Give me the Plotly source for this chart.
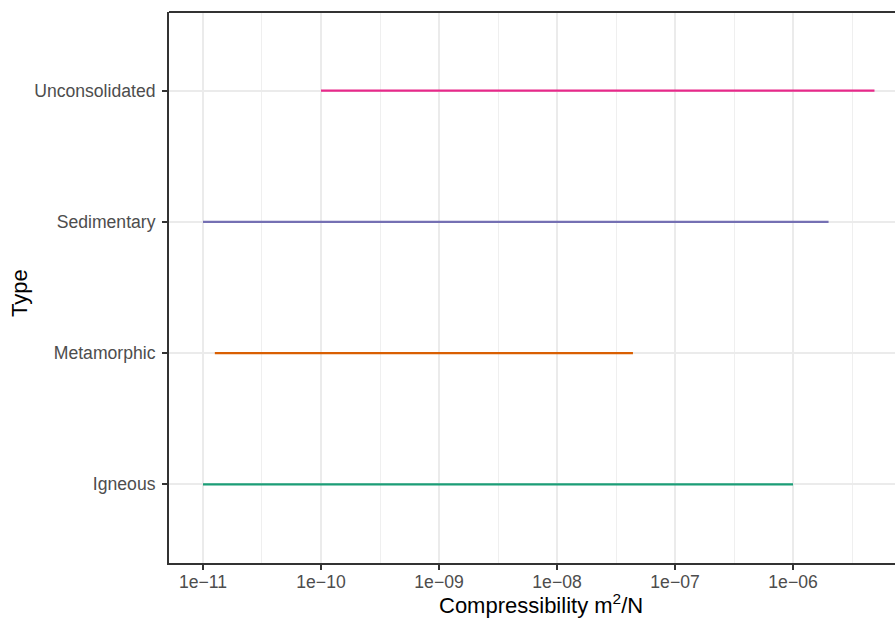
import numpy as np
import plotly.graph_objects as go

types = ["Igneous", "Metamorphic", "Sedimentary", "Unconsolidated"]
x_min = [1e-11, 1.26e-11, 1e-11, 1e-10]
x_max = [1e-6, 4.4e-8, 2e-6, 4.9e-6]
colors = ["#1B9E77", "#D95F02", "#7570B3", "#E7298A"]

tick_vals = [1e-11, 1e-10, 1e-9, 1e-8, 1e-7, 1e-6]
tick_text = ["1e\u221211", "1e\u221210", "1e\u221209", "1e\u221208", "1e\u221207", "1e\u221206"]
minor_vals = [10 ** -10.5, 10 ** -9.5, 10 ** -8.5, 10 ** -7.5, 10 ** -6.5, 10 ** -5.5]

fig = go.Figure()
for t, a, b, c in zip(types, x_min, x_max, colors):
    fig.add_trace(go.Scatter(x=[a, b], y=[t, t], mode="lines",
                             line=dict(color=c, width=2.3), showlegend=False,
                             hoverinfo="skip"))

fig.update_layout(
    width=895, height=619,
    margin=dict(l=169, r=0, t=12, b=56),
    paper_bgcolor="white", plot_bgcolor="white",
    font=dict(family="Liberation Sans, Arial, sans-serif", size=17.6, color="#4D4D4D"),
    showlegend=False,
)
fig.update_xaxes(
    type="log", range=[-11.288, -5.136],
    tickvals=tick_vals, ticktext=tick_text,
    showgrid=True, gridcolor="#EBEBEB", gridwidth=2,
    minor=dict(tickvals=minor_vals, showgrid=True, gridcolor="#EFEFEF", gridwidth=1.2, ticklen=0),
    ticks="outside", ticklen=5, tickwidth=2, tickcolor="#333333",
    showline=True, linecolor="#333333", linewidth=2,
    tickfont=dict(size=17.6, color="#4D4D4D"),
    ticklabelstandoff=-3,
    zeroline=False,
)
fig.update_yaxes(
    type="category", categoryorder="array", categoryarray=types,
    range=[-0.6, 3.6],
    showgrid=True, gridcolor="#EBEBEB", gridwidth=2,
    ticks="outside", ticklen=5, tickwidth=2, tickcolor="#333333",
    showline=True, linecolor="#333333", linewidth=2,
    tickfont=dict(size=17.6, color="#4D4D4D"),
    ticklabelstandoff=3,
    zeroline=False,
)
fig.add_shape(type="line", xref="paper", yref="paper", x0=0, x1=1, y0=1, y1=1,
              line=dict(color="#333333", width=2))
fig.add_annotation(text="Compressibility m<sup>2</sup>/N", xref="paper", yref="paper",
                   x=0.512, y=-0.074, xanchor="center", yanchor="middle", showarrow=False,
                   font=dict(size=22, color="black"))
fig.add_annotation(text="Type", xref="paper", yref="paper", textangle=-90,
                   x=-0.2066, y=0.49, xanchor="center", yanchor="middle", showarrow=False,
                   font=dict(size=22, color="black"))

fig.write_html("out.html", config={"displayModeBar": False},
               post_script="document.body.style.margin='0';document.body.style.overflow='hidden';")
